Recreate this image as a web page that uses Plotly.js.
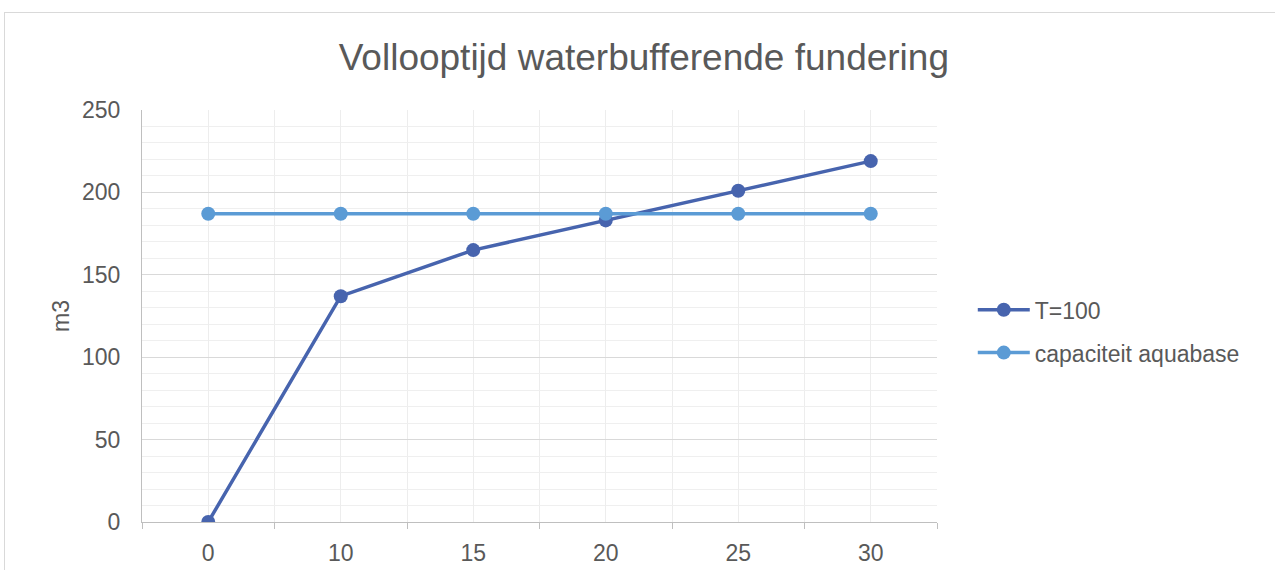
<!DOCTYPE html>
<html>
<head>
<meta charset="utf-8">
<script src="https://cdn.plot.ly/plotly-3.0.1.min.js"></script>
<style>
  html, body { margin: 0; padding: 0; background: #ffffff; }
  #wrap { position: relative; width: 1275px; height: 570px; overflow: hidden; }
  #frame { position: absolute; left: 4px; top: 12px; width: 1290px; height: 600px;
           border: 1px solid #d9d9d9; box-sizing: border-box; pointer-events: none; }
  #chart { position: absolute; left: 0; top: 0; width: 1275px; height: 570px; }
</style>
</head>
<body>
<div id="wrap">
  <div id="chart"></div>
  <div id="frame"></div>
</div>
<script>
// Data
const categories = ["0", "10", "15", "20", "25", "30"];
const seriesT100 = [0, 137, 165, 183, 201, 219];
const seriesCapacity = [187, 187, 187, 187, 187, 187];
const seriesNames = ["T=100", "capaciteit aquabase"];
const yTicks = [0, 50, 100, 150, 200, 250];

const xPos = categories.map((c, i) => i);
const FONT = "Liberation Sans, Arial, sans-serif";
const TXT = "#595959";

const traces = [
  {
    x: xPos, y: seriesT100, name: seriesNames[0], type: "scatter", mode: "lines+markers",
    line: { color: "#4764ae", width: 3.5 },
    marker: { color: "#4764ae", size: 14 },
    legendgroup: "a"
  },
  {
    x: xPos, y: seriesCapacity, name: seriesNames[1], type: "scatter", mode: "lines+markers",
    line: { color: "#5b9bd5", width: 3.5 },
    marker: { color: "#5b9bd5", size: 14 },
    legendgroup: "b"
  }
];

const layout = {
  width: 1275, height: 570,
  margin: { l: 142, r: 338, t: 110, b: 48, pad: 0 },
  paper_bgcolor: "rgba(0,0,0,0)",
  plot_bgcolor: "rgba(0,0,0,0)",
  font: { family: FONT, color: TXT, size: 23 },
  title: {
    text: "Vollooptijd waterbufferende fundering",
    font: { family: FONT, size: 37, color: TXT },
    x: 0.505, xanchor: "center", xref: "container",
    y: 0.9, yanchor: "middle", yref: "container"
  },
  xaxis: {
    range: [-0.5, 5.5],
    tickmode: "array",
    tickvals: xPos,
    ticktext: categories,
    ticks: "",
    showgrid: true, gridcolor: "#ededed", gridwidth: 1,
    showline: true, linecolor: "#bfbfbf", linewidth: 1,
    zeroline: false,
    tickfont: { family: FONT, size: 23, color: TXT },
    ticklabelstandoff: 10,
    minor: { tick0: -0.5, dtick: 1, ticks: "outside", ticklen: 6, tickcolor: "#bfbfbf",
             showgrid: true, gridcolor: "#ededed", gridwidth: 1 },
    fixedrange: true
  },
  yaxis: {
    range: [0, 250],
    tickmode: "array",
    tickvals: yTicks,
    ticks: "",
    showgrid: true, gridcolor: "#d9d9d9", gridwidth: 1,
    showline: true, linecolor: "#bfbfbf", linewidth: 1,
    zeroline: false,
    tickfont: { family: FONT, size: 23, color: TXT },
    ticklabelstandoff: 16,
    minor: { dtick: 10, showgrid: true, gridcolor: "#efefef", gridwidth: 1 },
    title: { text: "m3", font: { family: FONT, size: 23, color: TXT }, standoff: 5 },
    fixedrange: true
  },
  showlegend: true,
  legend: {
    x: 1.045, xanchor: "left",
    y: 0.463, yanchor: "middle",
    font: { family: FONT, size: 23, color: TXT },
    itemwidth: 52,
    traceorder: "grouped",
    tracegroupgap: 10,
    bgcolor: "rgba(0,0,0,0)"
  }
};

Plotly.newPlot("chart", traces, layout, { displayModeBar: false, staticPlot: true });
</script>
</body>
</html>
